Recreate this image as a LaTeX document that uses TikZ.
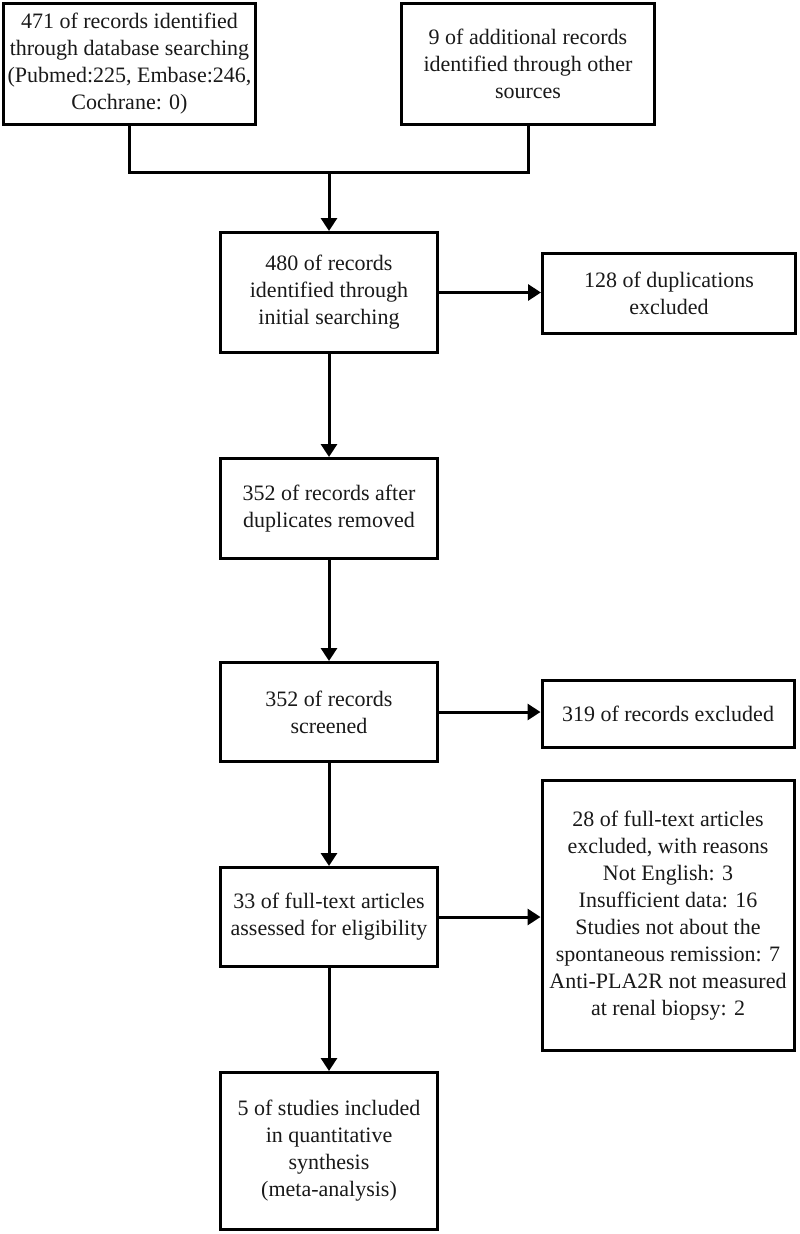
\documentclass[tikz,border=0pt]{standalone}
\usepackage{fontspec}
\setmainfont{Liberation Serif}
\usetikzlibrary{arrows.meta}
\definecolor{ink}{RGB}{25,25,25}
\tikzset{
  box/.style={draw=black, line width=3pt, fill=white, align=center, inner sep=0pt,
    font=\fontsize{22}{27}\selectfont, text=ink},
  conn/.style={draw=black, line width=3pt},
  arr/.style={conn, -{Triangle[length=13pt,width=16pt]}}
}
\begin{document}
\begin{tikzpicture}[x=1pt,y=-1pt]
\useasboundingbox (0,0) rectangle (800,1234);
\node[box, minimum width=252pt, minimum height=121pt] (A) at (129.5,64)
  {471 of records identified\\through database searching\\(Pubmed:225, Embase:246,\\Cochrane: 0)};
\node[box, minimum width=253pt, minimum height=121pt] (B) at (528,64)
  {9 of additional records\\identified through other\\sources};
\node[box, minimum width=217pt, minimum height=120pt] (C) at (329,292.5)
  {480 of records\\identified through\\initial searching};
\node[box, minimum width=253pt, minimum height=80pt] (dup) at (669,293.5)
  {128 of duplications\\excluded};
\node[box, minimum width=217pt, minimum height=100pt] (D) at (329,508.5)
  {352 of records after\\duplicates removed};
\node[box, minimum width=217pt, minimum height=99pt] (E) at (329,712)
  {352 of records\\screened};
\node[box, minimum width=252pt, minimum height=67pt] (excl) at (668,714)
  {319 of records excluded};
\node[box, minimum width=217pt, minimum height=99pt] (F) at (329,917)
  {33 of full-text articles\\assessed for eligibility};
\node[box, minimum width=252pt, minimum height=270pt] (full) at (668,915.5)
  {28 of full-text articles\\excluded, with reasons\\Not English: 3\\Insufficient data: 16\\Studies not about the\\spontaneous remission: 7\\Anti-PLA2R not measured\\at renal biopsy: 2};
\node[box, minimum width=217pt, minimum height=157pt] (G) at (329,1151)
  {5 of studies included\\in quantitative\\synthesis\\(meta-analysis)};
\coordinate (jn) at (329,172);
\draw[conn] (A.south) -- (A.south |- jn) -- (B.south |- jn) -- (B.south);
\draw[arr] (jn) -- (C.north);
\draw[arr] (C.east) -- (C.east -| dup.west);
\draw[arr] (C.south) -- (D.north);
\draw[arr] (D.south) -- (E.north);
\draw[arr] (E.east) -- (E.east -| excl.west);
\draw[arr] (E.south) -- (F.north);
\draw[arr] (F.east) -- (F.east -| full.west);
\draw[arr] (F.south) -- (G.north);
\end{tikzpicture}
\end{document}
